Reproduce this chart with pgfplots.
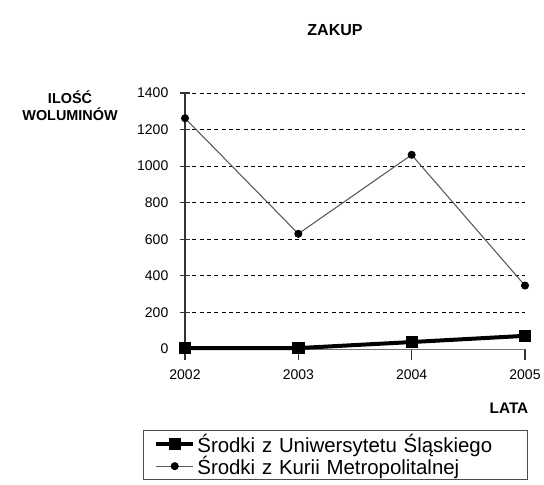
\documentclass[border=0pt]{standalone}
\usepackage{pgfplots}
\pgfplotsset{compat=1.18}
\usepackage{fontspec}
\setmainfont{Liberation Sans}
\begin{document}
\begin{tikzpicture}[x=0.75pt,y=0.75pt]
\clip (0,0) rectangle (544,485);
\fill[white] (0,0) rectangle (544,485);
\begin{axis}[
  at={(138.75pt,102pt)}, anchor=south west,
  scale only axis, width=255pt, height=192pt,
  xmin=2002, xmax=2005, ymin=0, ymax=1400,
  clip=false,
  axis x line=bottom, axis y line=left,
  x axis line style={-, black!55, line width=0.6pt},
  y axis line style={-, black!80, line width=1pt},
  xtick={2002,2003,2004,2005},
  ytick={0,200,...,1400},
  xtick align=outside, ytick align=center,
  major tick length=8pt,
  tick style={black!80, line width=0.8pt},
  /pgf/number format/1000 sep={},
  x tick label style={yshift=-4pt},
  y tick label style={xshift=-5pt},
  /pgf/number format/assume math mode=true,
  tick label style={font=\fontsize{10.5}{12}\selectfont},
  ymajorgrids,
  major grid style={black, line width=0.7pt, dash pattern=on 3pt off 2.5pt},
  legend style={at={(-0.1235,-0.3164)}, anchor=north west, draw=black!70, line width=0.6pt,
    font=\fontsize{15.3}{15}\selectfont, inner sep=1pt, row sep=-1.5pt,
    nodes={text width=245pt, inner sep=1.5pt}},
  legend cell align=left,
  legend image code/.code={\path (0pt,0pt); \draw[mark repeat=2,mark phase=2] plot coordinates {(7pt,0pt) (21pt,0pt) (35pt,0pt)};},
]
\addplot[black, line width=3pt, mark=square*, mark size=4.3pt, mark options={solid, line width=0.5pt}]
  coordinates {(2002,5) (2003,5) (2004,38) (2005,72)};
\addlegendentry{Środki z Uniwersytetu Śląskiego}
\addplot[black!65, line width=0.8pt, mark=*, mark size=2.6pt, mark options={fill=black, draw=black}]
  coordinates {(2002,1262) (2003,630) (2004,1062) (2005,347)};
\addlegendentry{Środki z Kurii Metropolitalnej}
\end{axis}
\node[font=\bfseries\fontsize{12}{14}\selectfont] at (335,455) {ZAKUP};
\node[font=\bfseries\fontsize{10.8}{12}\selectfont, align=center, inner sep=0pt] at (70,379) {ILOŚĆ\\[1pt]WOLUMINÓW};
\node[font=\bfseries\fontsize{11.5}{13}\selectfont] at (509,77) {LATA};
\end{tikzpicture}
\end{document}
